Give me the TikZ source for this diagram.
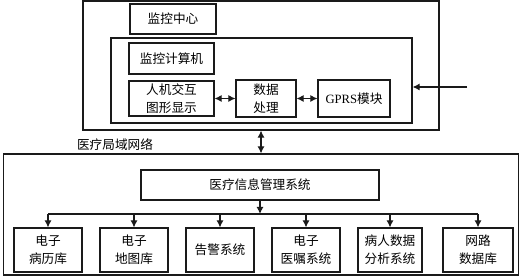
\documentclass[tikz,border=0pt]{standalone}
\usepackage{fontspec}
\usepackage{tikz}
\usetikzlibrary{positioning,arrows.meta}
\newfontfamily\cjk{Noto Sans CJK SC}
\newfontfamily\latin{Liberation Serif}
\definecolor{ink}{HTML}{1A1A1A}

\begin{document}
\begin{tikzpicture}[x=0.025cm, y=-0.025cm, >={Latex[length=5pt,width=5pt]},
    font=\cjk\fontsize{9}{12.8}\selectfont,
    box/.style={draw=ink, line width=0.8pt, inner sep=0pt, align=center},
    frame/.style={draw=ink, line width=0.8pt, inner sep=0pt},
    link/.style={draw=ink, line width=0.8pt}]
    \useasboundingbox (0,0) rectangle (525,280);
    % monitoring centre
    \node[frame, minimum width=8.9cm, minimum height=3.225cm] (center) at (261,65.5) {};
    \node[box, minimum width=2.15cm, minimum height=0.75cm] (mc) at (173,19) {监控中心};
    \node[frame, minimum width=7.525cm, minimum height=2.125cm] (pc) at (261.5,80.5) {};
    \node[box, minimum width=2.125cm, minimum height=0.775cm] (jsj) at (171.5,58.5) {监控计算机};
    \node[box, minimum width=2.125cm, minimum height=0.875cm] (hmi) at (171.5,98.5) {人机交互\\图形显示};
    \node[box, minimum width=1.5cm, minimum height=0.925cm] (proc) at (266,98.5) {数据\\处理};
    \node[box, minimum width=1.8cm, minimum height=0.925cm] (gprs) at (354,98.5) {{\latin GPRS}模块};
    \draw[link, <->] (hmi) -- (proc);
    \draw[link, <->] (proc) -- (gprs);
    \coordinate (gin) at (467,87);
    \draw[link, ->] (gin) -- (gin -| pc.east);
    % hospital network
    \node (lan) at (115,145) {医疗局域网络};
    \node[frame, minimum width=12.875cm, minimum height=3.025cm] (net) at (261,214.5) {};
    \draw[link, <->] (center.south) -- (net.north);
    \node[box, minimum width=5.95cm, minimum height=0.75cm] (mis) at (260,185) {医疗信息管理系统};
    \node[box, minimum width=1.7cm, minimum height=1.1cm] (b1) at (48,250) {电子\\病历库};
    \node[box, minimum width=1.7cm, minimum height=1.1cm] (b2) at (134,250) {电子\\地图库};
    \node[box, minimum width=1.7cm, minimum height=1.1cm] (b3) at (220,250) {告警系统};
    \node[box, minimum width=1.7cm, minimum height=1.1cm] (b4) at (306,250) {电子\\医嘱系统};
    \node[box, minimum width=1.6cm, minimum height=1.1cm] (b5) at (390,250) {病人数据\\分析系统};
    \node[box, minimum width=1.75cm, minimum height=1.1cm] (b6) at (478,250) {网路\\数据库};
    \coordinate (bus) at (260,214);
    \draw[link, ->] (mis.south) -- (mis.south |- bus);
    \draw[link] (b1.north |- bus) -- (b6.north |- bus);
    \foreach \i in {1,...,6}
        \draw[link, ->] (b\i.north |- bus) -- (b\i.north);
\end{tikzpicture}
\end{document}
